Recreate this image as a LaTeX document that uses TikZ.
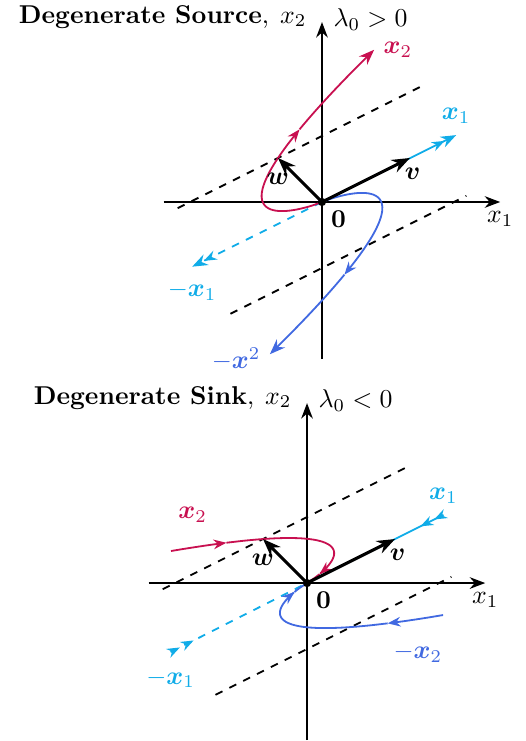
\documentclass[tikz,border=0pt]{standalone}
\usepackage{amsmath,amssymb,amsfonts}
\usepackage{xcolor}
\usepackage{tikz}
\usetikzlibrary{arrows.meta, positioning, decorations.markings}

\definecolor{trajred}{RGB}{200,16,80}
\definecolor{eigcyan}{RGB}{16,172,232}
\definecolor{trajblue}{RGB}{65,105,225}

\begin{document}
\begin{tikzpicture}[x=0.6cm, y=0.6cm,
    axis/.style={thick, -{Stealth[length=6pt]}},
    vec/.style={very thick, -{Stealth[length=7pt]}},
    sepline/.style={dashed, line width=0.7pt},
    traj/.style={line width=0.7pt, smooth, samples=40},
    midtip/.style={postaction={decorate, decoration={markings, mark=at position #1 with {\arrow{Stealth[length=5pt]}}}}},
    marktip/.style={-{Stealth[length=5pt]}},
    endtip/.style={-{Stealth[length=6pt]}}]
    \useasboundingbox (-7.318,-12.25) rectangle (4.614,4.591);

    % Degenerate source
    \begin{scope}
        \coordinate (srcO) at (0,0);
        \coordinate (srcv) at (2,1);
        \coordinate (srcw) at (-1,1);
        \coordinate (srcxone) at (3.05,1.52);
        \coordinate (srcmxone) at (-2.95,-1.47);
        \draw[axis] (-3.6,0) -- (4.05,0) coordinate (srcright) node[below] {$x_1$};
        \draw[axis] (0,-3.57) -- (0,4.09) coordinate (srctop);
        \node (srcxtwo) [left=2.5pt, yshift=1pt] at (srctop) {$x_2$};
        \node (srctitle) [anchor=base east, xshift=2.8pt] at (srcxtwo.base west) {\textbf{Degenerate Source},};
        \node (srclam) [right=1pt, yshift=1pt] at (srctop) {$\lambda_0 > 0$};
        \draw[sepline] (-3.28,-0.14) -- (2.28,2.64);
        \draw[sepline] (-2.08,-2.54) -- (3.28,0.14);
        % eigen lines
        \draw[eigcyan, line width=0.7pt, endtip, midtip=-5pt] (srcO) -- (srcxone) node[above=1pt] {$\boldsymbol{x}_1$};
        \draw[eigcyan, line width=0.7pt, dashed, endtip, midtip=-5pt] (srcO) -- (srcmxone) node[below=2pt] {$-\boldsymbol{x}_1$};
        % trajectories
        \draw[trajred, traj, domain=-5:0.3, marktip] (srcO) -- plot ({exp(0.8*\x)*(2*\x-1)}, {exp(0.8*\x)*(\x+1)});
        \draw[trajred, traj, domain=0.3:0.81, endtip] plot ({exp(0.8*\x)*(2*\x-1)}, {exp(0.8*\x)*(\x+1)}) node[right] {$\boldsymbol{x}_2$};
        \draw[trajblue, traj, domain=-5:0.3, marktip] (srcO) -- plot ({exp(0.8*\x)*(1-2*\x)}, {-exp(0.8*\x)*(\x+1)});
        \draw[trajblue, traj, domain=0.3:0.81, endtip] plot ({exp(0.8*\x)*(1-2*\x)}, {-exp(0.8*\x)*(\x+1)}) node[left, yshift=-2pt] {$-\boldsymbol{x}^2$};
        % vectors
        \draw[vec] (srcO) -- (srcv) node[below, xshift=1pt] {$\boldsymbol{v}$};
        \draw[vec] (srcO) -- (srcw) node[below=2pt] {$\boldsymbol{w}$};
        \fill (srcO) circle (1.6pt);
        \node[below right] at (srcO) {$\mathbf{0}$};
    \end{scope}

    % Degenerate sink
    \begin{scope}[shift={(-0.34,-8.66)}]
        \coordinate (snkO) at (0,0);
        \coordinate (snkv) at (2,1);
        \coordinate (snkw) at (-1,1);
        \coordinate (snkxone) at (3.1,1.55);
        \coordinate (snkmxone) at (-3.1,-1.57);
        \draw[axis] (-3.6,0) -- (4.05,0) coordinate (snkright) node[below] {$x_1$};
        \draw[axis] (0,-3.57) -- (0,4.09) coordinate (snktop);
        \node (snkxtwo) [left=2.5pt, yshift=1pt] at (snktop) {$x_2$};
        \node (snktitle) [anchor=base east, xshift=2.8pt] at (snkxtwo.base west) {\textbf{Degenerate Sink},};
        \node (snklam) [right=1pt, yshift=1pt] at (snktop) {$\lambda_0 < 0$};
        \draw[sepline] (-3.28,-0.14) -- (2.28,2.64);
        \draw[sepline] (-2.08,-2.54) -- (3.28,0.14);
        % eigen lines
        \draw[eigcyan, line width=0.7pt, midtip=4pt, midtip=10pt] (snkxone) -- (snkO);
        \node[eigcyan, above=1pt] at (snkxone) {$\boldsymbol{x}_1$};
        \draw[eigcyan, line width=0.7pt, dashed, midtip=4pt, midtip=10pt] (snkmxone) -- (snkO);
        \node[eigcyan, below=3pt] at (snkmxone) {$-\boldsymbol{x}_1$};
        % trajectories
        \draw[trajred, traj, domain=-0.52:-0.25, samples=6, marktip] plot ({exp(-0.8*\x)*(2*\x-1)}, {exp(-0.8*\x)*(\x+1)});
        \draw[trajred, traj, domain=-0.25:4, marktip] plot ({exp(-0.8*\x)*(2*\x-1)}, {exp(-0.8*\x)*(\x+1)});
        \draw[trajred, traj, domain=4:5, samples=6] plot ({exp(-0.8*\x)*(2*\x-1)}, {exp(-0.8*\x)*(\x+1)}) -- (snkO);
        \node[trajred] (snkxtwolbl) at (-2.6,1.55) {$\boldsymbol{x}_2$};
        \draw[trajblue, traj, domain=-0.52:-0.25, samples=6, marktip] plot ({exp(-0.8*\x)*(1-2*\x)}, {-exp(-0.8*\x)*(\x+1)});
        \draw[trajblue, traj, domain=-0.25:4, marktip] plot ({exp(-0.8*\x)*(1-2*\x)}, {-exp(-0.8*\x)*(\x+1)});
        \draw[trajblue, traj, domain=4:5, samples=6] plot ({exp(-0.8*\x)*(1-2*\x)}, {-exp(-0.8*\x)*(\x+1)}) -- (snkO);
        \node[trajblue] (snkmxtwolbl) at (2.52,-1.59) {$-\boldsymbol{x}_2$};
        % vectors
        \draw[vec] (snkO) -- (snkv) node[below, xshift=1pt] {$\boldsymbol{v}$};
        \draw[vec] (snkO) -- (snkw) node[below=2pt] {$\boldsymbol{w}$};
        \fill (snkO) circle (1.6pt);
        \node[below right] at (snkO) {$\mathbf{0}$};
    \end{scope}
\end{tikzpicture}
\end{document}
